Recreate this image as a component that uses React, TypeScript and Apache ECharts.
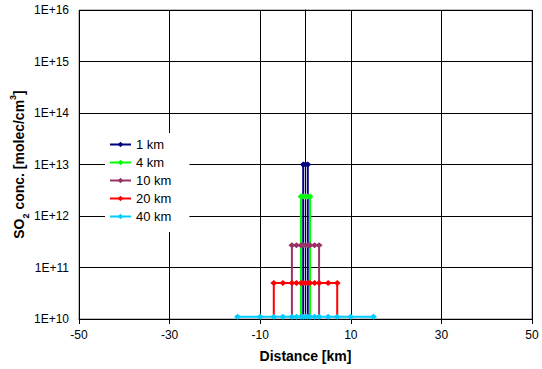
import React, { useEffect, useRef } from 'react';
import * as echarts from 'echarts';

const seriesNames = ['1 km', '4 km', '10 km', '20 km', '40 km'];
const seriesColors = ['#000080', '#00FF00', '#993366', '#FF0000', '#00CCFF'];
const xPoints1 = [-0.5, 0, 0.5];
const xPoints4 = [-1, -0.5, 0, 0.5, 1];
const xPoints10 = [-3, -2, -1, -0.5, 0, 0.5, 1, 2, 3];
const xPoints20 = [-7, -5, -3, -2, -1, -0.5, 0, 0.5, 1, 2, 3, 5, 7];
const xPoints40 = [-15, -10, -7, -5, -3, -2, -1, -0.5, 0, 0.5, 1, 2, 3, 5, 7, 10, 15];
const seriesX = [xPoints1, xPoints4, xPoints10, xPoints20, xPoints40];
const peakValues = [1e13, 2.4e12, 2.7e11, 5e10, 1.1e10];
const baseline = 1e10;
const xMin = -50;
const xMax = 50;
const xStep = 20;
const yMin = 1e10;
const yMax = 1e16;

const FONT = '"Liberation Sans", Arial, sans-serif';

export default function App() {
  const ref = useRef<HTMLDivElement>(null);
  useEffect(() => {
    if (!ref.current) return;
    const chart = echarts.init(ref.current, undefined, { renderer: 'svg' });
    const series = seriesNames.map((name, i) => {
      const xs = seriesX[i];
      const data: any[] = [];
      data.push({ value: [xs[0], baseline], symbol: 'none' });
      xs.forEach((x) => data.push([x, peakValues[i]]));
      data.push({ value: [xs[xs.length - 1], baseline], symbol: 'none' });
      return {
        name,
        type: 'line',
        data,
        symbol: 'diamond',
        symbolSize: [7, 6],
        showSymbol: true,
        color: seriesColors[i],
        lineStyle: { width: 2, color: seriesColors[i] },
        itemStyle: { color: seriesColors[i] },
      };
    });
    chart.setOption({
      animation: false,
      backgroundColor: '#ffffff',
      textStyle: { fontFamily: FONT },
      grid: {
        left: 79,
        right: 10,
        top: 10,
        bottom: 50,
        containLabel: false,
        outerBoundsMode: 'none',
        show: true,
        borderColor: '#808080',
        borderWidth: 1,
      },
      legend: {
        left: 105,
        top: 133,
        orient: 'vertical',
        backgroundColor: '#ffffff',
        padding: [5, 18, 9, 4],
        itemWidth: 21,
        itemHeight: 7,
        itemGap: 5,
        textStyle: { fontFamily: FONT, fontSize: 13, color: '#000' },
        data: seriesNames,
      },
      xAxis: {
        type: 'value',
        min: xMin,
        max: xMax,
        interval: xStep,
        name: 'Distance [km]',
        nameLocation: 'middle',
        nameGap: 30,
        nameMoveOverlap: false,
        nameTextStyle: { fontFamily: FONT, fontSize: 14, fontWeight: 'bold', color: '#000' },
        axisLine: { lineStyle: { color: '#000', width: 1 } },
        axisTick: { show: true, length: 5, lineStyle: { color: '#000' } },
        axisLabel: { fontFamily: FONT, fontSize: 12, color: '#000', margin: 10 },
        splitLine: { show: true, lineStyle: { color: '#000', width: 1 } },
      },
      yAxis: {
        type: 'log',
        logBase: 10,
        min: yMin,
        max: yMax,
        name: '{b|SO}{s|2}{b| conc. [molec/cm}{p|3}{b|]}',
        nameLocation: 'middle',
        nameGap: 49,
        nameMoveOverlap: false,
        nameTextStyle: {
          color: '#000',
          rich: {
            b: { fontFamily: FONT, fontSize: 14, fontWeight: 'bold', color: '#000', lineHeight: 18 },
            s: { fontFamily: FONT, fontSize: 9, fontWeight: 'bold', color: '#000', verticalAlign: 'bottom', lineHeight: 14 },
            p: { fontFamily: FONT, fontSize: 9, fontWeight: 'bold', color: '#000', verticalAlign: 'top', lineHeight: 22 },
          },
        },
        axisLine: { show: true, lineStyle: { color: '#000', width: 1 } },
        axisTick: { show: true, length: 5, lineStyle: { color: '#000' } },
        axisLabel: {
          fontFamily: FONT,
          fontSize: 12,
          color: '#000',
          margin: 10,
          formatter: (v: number) => '1E+' + Math.round(Math.log10(v)),
        },
        splitLine: { show: true, lineStyle: { color: '#000', width: 1 } },
      },
      series,
    });
    return () => chart.dispose();
  }, []);
  return (
    <div
      ref={ref}
      style={{ position: 'fixed', left: 0, top: 0, width: 542, height: 369, background: '#fff' }}
    />
  );
}
